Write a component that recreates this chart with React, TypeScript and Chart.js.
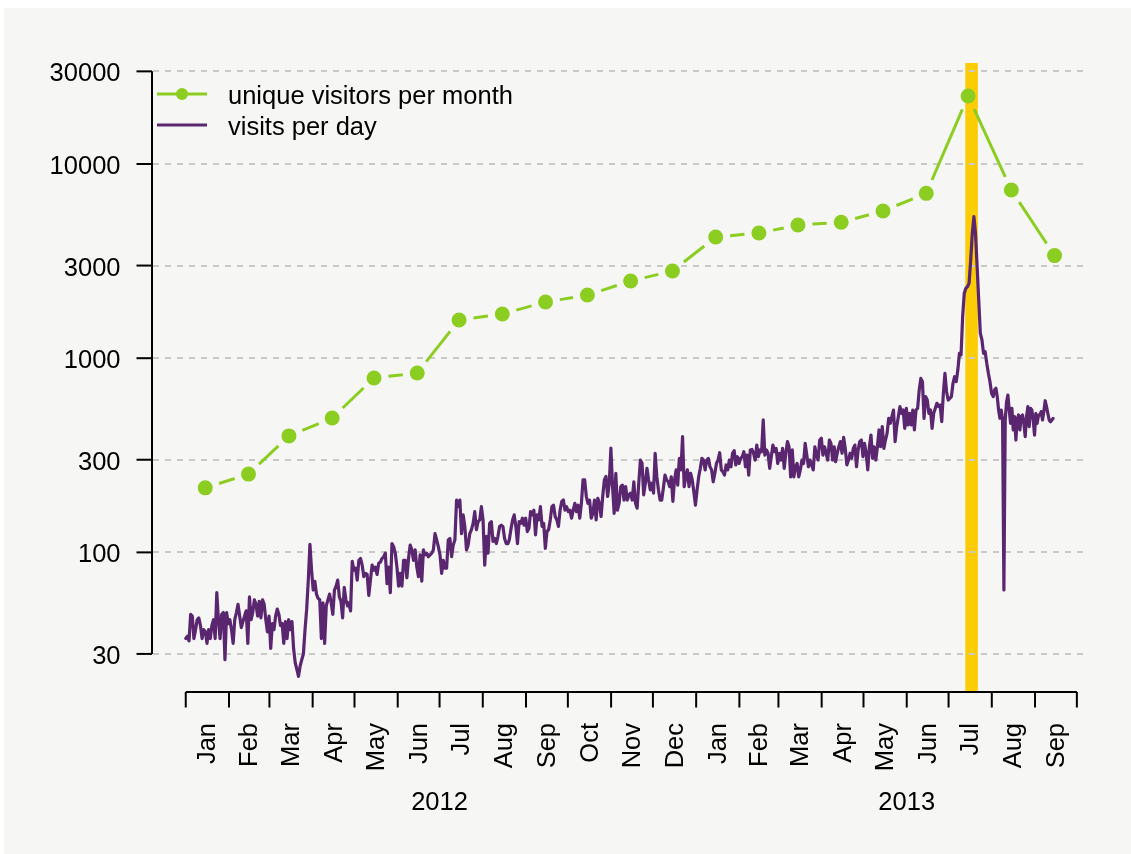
import React, { useEffect, useRef } from "react";
import { Chart, registerables } from "chart.js";

Chart.register(...registerables);

// ---------- data ----------
const MONTH_NAMES = ["Jan", "Feb", "Mar", "Apr", "May", "Jun", "Jul", "Aug", "Sep", "Oct", "Nov", "Dec"];
const AXIS_START = "2012-01-01";
const AXIS_END = "2013-10-01";
const YEAR_LABELS = ["2012", "2013"];
const YEAR_LABEL_DATES = ["2012-07-01", "2013-06-01"];

const Y_TICKS = [30, 100, 300, 1000, 3000, 10000, 30000];
const Y_TICK_LABELS = ["30", "100", "300", "1000", "3000", "10000", "30000"];

const HIGHLIGHT_START = "2013-07-13";
const HIGHLIGHT_END = "2013-07-22";

const MONTHLY_DATES = [
  "2012-01-15", "2012-02-15", "2012-03-15", "2012-04-15", "2012-05-15", "2012-06-15",
  "2012-07-15", "2012-08-15", "2012-09-15", "2012-10-15", "2012-11-15", "2012-12-15",
  "2013-01-15", "2013-02-15", "2013-03-15", "2013-04-15", "2013-05-15", "2013-06-15",
  "2013-07-15", "2013-08-15", "2013-09-15",
];
const MONTHLY_UNIQUE = [
  215, 253, 398, 492, 791, 839, 1573, 1689, 1947, 2115, 2497, 2812,
  4209, 4412, 4852, 5010, 5730, 7063, 22390, 7346, 3375,
];

// daily visits, read in consecutive stretches (start date, end date, readings)
const VISITS_2012_JAN_APR = [
  36, 37, 35, 48, 47, 36, 40, 45, 46, 42, 36, 40, 39, 34, 40, 36, 42, 45, 36, 62,
  45, 36, 48, 49, 28, 49, 43, 45, 40, 34, 45, 49, 54, 47, 41, 44, 47, 50, 34, 59,
  45, 49, 57, 54, 47, 56, 46, 57, 54, 45, 39, 47, 32, 43, 40, 47, 51, 48, 42, 43,
  34, 44, 36, 45, 40, 44, 32, 27, 25, 23, 26, 28, 30, 40, 51, 72, 110, 81, 64, 71,
  61, 58, 57, 36, 55, 34, 53, 57, 61, 55, 48, 64, 67, 72, 59, 56, 46, 66, 57, 53,
];
const VISITS_2012_APR_AUG = [
  55, 50, 90, 81, 83, 72, 91, 93, 86, 75, 78, 77, 60, 72, 86, 81, 84, 77, 88, 89,
  93, 95, 99, 69, 84, 62, 111, 107, 99, 84, 67, 78, 67, 91, 91, 74, 93, 109, 103, 91,
  103, 84, 75, 97, 71, 103, 97, 99, 95, 97, 99, 103, 125, 116, 107, 97, 78, 91, 83, 83,
  116, 118, 95, 109, 116, 186, 172, 186, 125, 156, 136, 103, 109, 125, 131, 141, 162, 131, 144, 147,
  172, 147, 86, 121, 99, 141, 144, 114, 118, 111, 121, 136, 138, 136, 118, 111, 111,
];
const VISITS_2012_AUG_DEC = [
  116, 131, 147, 156, 136, 111, 144, 141, 150, 138, 150, 128, 133, 162, 156, 165, 123, 156, 147, 172,
  136, 141, 105, 128, 131, 147, 172, 175, 153, 147, 136, 165, 183, 186, 165, 172, 162, 165, 150, 165,
  179, 162, 175, 150, 179, 236, 236, 194, 179, 186, 150, 159, 186, 147, 190, 179, 153, 194, 236, 246,
  194, 227, 344, 218, 159, 255, 165, 179, 218, 222, 186, 218, 186, 198, 202, 186, 231, 179, 169, 227,
  299, 288, 198, 227, 271, 236, 210, 227, 202, 324, 246, 210, 186, 186, 214, 250, 236, 231,
];
const VISITS_2012_DEC_2013_APR = [
  218, 245, 183, 236, 266, 222, 305, 266, 395, 218, 245, 266, 218, 255, 236, 205, 175, 210, 245, 271,
  305, 299, 266, 299, 305, 276, 266, 231, 255, 287, 299, 326, 266, 260, 250, 282, 266, 299, 276, 324,
  334, 282, 311, 287, 305, 311, 330, 276, 317, 250, 337, 339, 324, 299, 357, 311, 337, 330, 481, 317,
  337, 324, 271, 311, 357, 330, 343, 287, 324, 299, 343, 271, 324, 372, 350, 245, 337, 245, 276, 287,
  245, 266, 299, 287, 364, 317, 276, 299, 282, 266, 350, 317, 299, 379, 387, 317, 350, 324, 299, 379,
  364, 299, 350,
];
const VISITS_2013_APR_AUG = [
  293, 324, 350, 372, 324, 391, 343, 282, 299, 324, 305, 343, 357, 276, 337, 372, 379, 311, 364, 324,
  266, 350, 402, 305, 350, 299, 350, 427, 350, 444, 343, 379, 410, 490, 462, 500, 541, 372, 444, 500,
  563, 520, 541, 435, 552, 453, 520, 453, 541, 427, 541, 552, 686, 787, 757, 490, 634, 609, 520, 541,
  435, 520, 552, 586, 563, 574, 471, 659, 836, 672, 609, 621, 634, 742, 803, 757, 869, 1059, 1039, 1637,
  2158, 2289, 2335, 2429, 3203, 4395, 5356, 4395, 2960, 1994, 1343, 1241, 1059, 1080, 941, 836, 757, 659, 634,
];
const VISITS_2013_AUG_SEP = [
  686, 700, 634, 541, 490, 541, 481, 64, 481, 597, 646, 541, 462, 552, 427, 500, 379, 481, 510, 427,
  500, 510, 462, 395, 500, 563, 444, 552, 541, 481, 402, 520, 462, 510, 510, 531, 481, 531, 604, 563,
  520, 481, 471, 481, 490,
];
const VISIT_STRETCHES: [string, string, number[]][] = [
  ["2012-01-01", "2012-04-26", VISITS_2012_JAN_APR],
  ["2012-04-27", "2012-08-19", VISITS_2012_APR_AUG],
  ["2012-08-20", "2012-12-12", VISITS_2012_AUG_DEC],
  ["2012-12-13", "2013-04-10", VISITS_2012_DEC_2013_APR],
  ["2013-04-11", "2013-08-02", VISITS_2013_APR_AUG],
  ["2013-08-03", "2013-09-14", VISITS_2013_AUG_SEP],
];

const LEGEND_LABELS = ["unique visitors per month", "visits per day"];

// ---------- style ----------
const GREEN = "#8ccd22";
const PURPLE = "#5a2670";
const ORANGE = "#fccc05";
const GRID = "#c9c9c9";
const BG = "#f6f6f4";
const FONT = '25.5px "Liberation Sans", Arial, Helvetica, sans-serif';

const X_MIN = -24.2;
const X_MAX = 647.7;
const Y_MIN = 19.1;
const Y_MAX = 33130;

const dayOf = (s: string) =>
  (Date.parse(s + "T00:00:00Z") - Date.parse("2012-01-01T00:00:00Z")) / 86400000;

function buildDaily() {
  const pts: { x: number; y: number }[] = [];
  for (const [a, b, vals] of VISIT_STRETCHES) {
    const d0 = dayOf(a);
    const d1 = dayOf(b);
    const n = vals.length;
    vals.forEach((v, i) => {
      pts.push({ x: d0 + ((d1 - d0) * i) / (n - 1), y: v });
    });
  }
  return pts;
}

function monthStarts() {
  const res: { day: number; m: number; y: number }[] = [];
  const s = new Date(AXIS_START + "T00:00:00Z");
  const e = dayOf(AXIS_END);
  let y = s.getUTCFullYear();
  let m = s.getUTCMonth();
  for (;;) {
    const d = (Date.UTC(y, m, 1) - Date.UTC(2012, 0, 1)) / 86400000;
    if (d > e) break;
    res.push({ day: d, m, y });
    m++;
    if (m > 11) {
      m = 0;
      y++;
    }
  }
  return res;
}

const decorPlugin = {
  id: "decor",
  beforeDraw(chart: any) {
    const { ctx, width, height } = chart;
    ctx.save();
    ctx.fillStyle = "#ffffff";
    ctx.fillRect(0, 0, width, height);
    ctx.fillStyle = BG;
    ctx.fillRect(4, 8, width - 4, height - 8);
    ctx.restore();
  },
  beforeDatasetsDraw(chart: any) {
    const { ctx, chartArea } = chart;
    const xs = chart.scales.x;
    const ys = chart.scales.y;
    ctx.save();
    // highlight band
    const bx0 = xs.getPixelForValue(dayOf(HIGHLIGHT_START));
    const bx1 = xs.getPixelForValue(dayOf(HIGHLIGHT_END));
    ctx.fillStyle = ORANGE;
    ctx.fillRect(bx0, chartArea.top, bx1 - bx0, chartArea.bottom - chartArea.top);
    // grid
    ctx.strokeStyle = GRID;
    ctx.lineWidth = 2;
    ctx.setLineDash([6, 6]);
    for (const v of Y_TICKS) {
      const y = Math.round(ys.getPixelForValue(v));
      ctx.beginPath();
      ctx.moveTo(chartArea.left + 1, y);
      ctx.lineTo(chartArea.right, y);
      ctx.stroke();
    }
    ctx.setLineDash([]);
    // gapped green line (type "b")
    const meta = chart.getDatasetMeta(0);
    const gap = 14.5;
    ctx.strokeStyle = GREEN;
    ctx.lineWidth = 3;
    ctx.lineCap = "butt";
    for (let i = 0; i < meta.data.length - 1; i++) {
      const p = meta.data[i];
      const q = meta.data[i + 1];
      const dx = q.x - p.x;
      const dy = q.y - p.y;
      const len = Math.hypot(dx, dy);
      if (len <= 2 * gap) continue;
      const ux = dx / len;
      const uy = dy / len;
      ctx.beginPath();
      ctx.moveTo(p.x + ux * gap, p.y + uy * gap);
      ctx.lineTo(q.x - ux * gap, q.y - uy * gap);
      ctx.stroke();
    }
    ctx.restore();
  },
  afterDraw(chart: any) {
    const { ctx, chartArea } = chart;
    const xs = chart.scales.x;
    const ys = chart.scales.y;
    ctx.save();
    ctx.strokeStyle = "#000";
    ctx.fillStyle = "#000";
    ctx.lineWidth = 2;
    ctx.font = FONT;
    const tick = 15.5;

    // y axis
    const ax = chartArea.left;
    const yTop = ys.getPixelForValue(Y_TICKS[Y_TICKS.length - 1]);
    const yBot = ys.getPixelForValue(Y_TICKS[0]);
    ctx.beginPath();
    ctx.moveTo(ax, yTop);
    ctx.lineTo(ax, yBot);
    ctx.stroke();
    ctx.textAlign = "right";
    ctx.textBaseline = "alphabetic";
    Y_TICKS.forEach((v, i) => {
      const y = ys.getPixelForValue(v);
      ctx.beginPath();
      ctx.moveTo(ax - tick, y);
      ctx.lineTo(ax, y);
      ctx.stroke();
      ctx.fillText(Y_TICK_LABELS[i], ax - 31.5, y + 10);
    });

    // x axis
    const ay = chartArea.bottom;
    const ms = monthStarts();
    const xl = xs.getPixelForValue(ms[0].day);
    const xr = xs.getPixelForValue(ms[ms.length - 1].day);
    ctx.beginPath();
    ctx.moveTo(xl, ay);
    ctx.lineTo(xr, ay);
    ctx.stroke();
    ms.forEach((mm) => {
      const x = xs.getPixelForValue(mm.day);
      ctx.beginPath();
      ctx.moveTo(x, ay);
      ctx.lineTo(x, ay + tick);
      ctx.stroke();
    });
    for (let i = 0; i < ms.length - 1; i++) {
      const mid = (ms[i].day + ms[i + 1].day) / 2;
      const x = xs.getPixelForValue(mid) + 1;
      ctx.save();
      ctx.translate(x, ay + 31);
      ctx.rotate(-Math.PI / 2);
      ctx.textAlign = "right";
      ctx.textBaseline = "middle";
      ctx.fillText(MONTH_NAMES[ms[i].m], 0, 0);
      ctx.restore();
    }
    ctx.textAlign = "center";
    ctx.textBaseline = "alphabetic";
    YEAR_LABELS.forEach((lab, i) => {
      const x = xs.getPixelForValue(dayOf(YEAR_LABEL_DATES[i]));
      ctx.fillText(lab, x, ay + 118);
    });

    // legend
    const lx0 = chartArea.left + 5;
    const lx1 = chartArea.left + 55;
    const ly0 = chartArea.top + 31;
    const ly1 = chartArea.top + 62;
    ctx.lineCap = "butt";
    ctx.strokeStyle = GREEN;
    ctx.lineWidth = 3;
    ctx.beginPath();
    ctx.moveTo(lx0, ly0);
    ctx.lineTo(lx1, ly0);
    ctx.stroke();
    ctx.fillStyle = GREEN;
    ctx.beginPath();
    ctx.arc((lx0 + lx1) / 2, ly0, 6, 0, Math.PI * 2);
    ctx.fill();
    ctx.strokeStyle = PURPLE;
    ctx.beginPath();
    ctx.moveTo(lx0, ly1);
    ctx.lineTo(lx1, ly1);
    ctx.stroke();
    ctx.fillStyle = "#000";
    ctx.textAlign = "left";
    ctx.fillText(LEGEND_LABELS[0], chartArea.left + 76, ly0 + 9.5);
    ctx.fillText(LEGEND_LABELS[1], chartArea.left + 76, ly1 + 9.5);
    ctx.restore();
  },
};

export default function App() {
  const ref = useRef<HTMLCanvasElement | null>(null);
  useEffect(() => {
    if (!ref.current) return;
    const monthly = MONTHLY_DATES.map((d, i) => ({ x: dayOf(d), y: MONTHLY_UNIQUE[i] }));
    const daily = buildDaily();
    const chart = new Chart(ref.current, {
      type: "line",
      data: {
        datasets: [
          {
            label: LEGEND_LABELS[0],
            data: monthly,
            showLine: false,
            pointRadius: 7.5,
            pointBackgroundColor: GREEN,
            pointBorderWidth: 0,
            borderColor: GREEN,
            order: 0,
          },
          {
            label: LEGEND_LABELS[1],
            data: daily,
            borderColor: PURPLE,
            borderWidth: 3.2,
            pointRadius: 0,
            tension: 0,
            borderJoinStyle: "round",
            borderCapStyle: "round",
            order: 1,
          },
        ],
      },
      options: {
        animation: false,
        responsive: false,
        devicePixelRatio: 1,
        events: [],
        layout: { padding: { left: 152, top: 63, right: 42, bottom: 162 } },
        plugins: {
          legend: { display: false },
          title: { display: false },
          tooltip: { enabled: false },
        },
        scales: {
          x: { type: "linear", display: false, min: X_MIN, max: X_MAX, bounds: "data" },
          y: { type: "logarithmic", display: false, min: Y_MIN, max: Y_MAX, bounds: "data" },
        },
      } as any,
      plugins: [decorPlugin],
    });
    return () => chart.destroy();
  }, []);
  return (
    <canvas
      ref={ref}
      width={1131}
      height={854}
      style={{ position: "fixed", left: 0, top: 0, display: "block" }}
    />
  );
}
